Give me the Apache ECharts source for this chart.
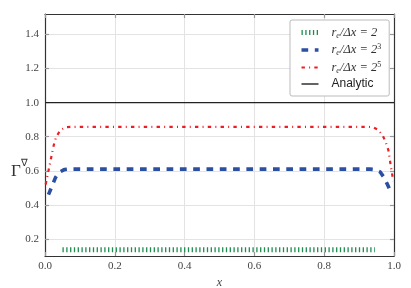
<!DOCTYPE html>
<html><head><meta charset="utf-8">
<script src="https://cdn.jsdelivr.net/npm/echarts@6/dist/echarts.min.js"></script>
<style>html,body{margin:0;padding:0;background:#fff}#c{width:411px;height:288px}</style>
</head><body><div id="c"></div>
<script>
// ---- data ----
const seriesNames = ['r2', 'r8', 'r32', 'Analytic'];
const greenX = [0.05, 0.945];
const greenY = [0.137, 0.137];
const blueX = [0.01, 0.02, 0.03, 0.04, 0.055, 0.07, 0.5, 0.93, 0.945, 0.96, 0.97, 0.98, 0.99];
const blueY = [0.46, 0.51, 0.56, 0.59, 0.607, 0.61, 0.61, 0.61, 0.607, 0.594, 0.565, 0.525, 0.48];
const redX = [0.002, 0.01, 0.018, 0.025, 0.032, 0.045, 0.06, 0.08, 0.5, 0.92, 0.94, 0.955, 0.968, 0.977, 0.984, 0.991, 0.998];
const redY = [0.52, 0.6, 0.68, 0.75, 0.8, 0.84, 0.856, 0.858, 0.858, 0.858, 0.856, 0.84, 0.805, 0.764, 0.72, 0.625, 0.54];
const analyticX = [0, 1];
const analyticY = [1, 1];
const yTicks = [0.2, 0.4, 0.6, 0.8, 1.0, 1.2, 1.4];
const xTicks = [0, 0.2, 0.4, 0.6, 0.8, 1.0];

const zip = (a, b) => a.map((v, i) => [v, b[i]]);
const serif = 'Liberation Serif';
const axisCommon = {
  axisLine: { show: true, onZero: false, lineStyle: { color: '#333', width: 1.2 } },
  axisTick: { show: true, inside: true, length: 4, lineStyle: { color: '#999', width: 1.2 } },
  splitLine: { show: true, lineStyle: { color: '#e3e3e3', width: 1 } },
  axisLabel: { fontFamily: serif, fontSize: 11, color: '#444' }
};
const legendLabels = {
  r2: '{m|r}{sub|e}{m|/Δx = 2}',
  r8: '{m|r}{sub|e}{m|/Δx = 2}{sup|3}',
  r32: '{m|r}{sub|e}{m|/Δx = 2}{sup|5}',
  Analytic: '{a|Analytic}'
};
const legendWidths = { r2: 5, r8: 3.6, r32: 2.2, Analytic: 1.4 };
const chart = echarts.init(document.getElementById('c'), null, { renderer: 'canvas' });
chart.setOption({
  animation: false,
  backgroundColor: '#fff',
  title: {
    text: '{g|Γ}{s|∇}', left: 11, top: 158, padding: 0,
    textStyle: {
      fontWeight: 'normal',
      rich: {
        g: { fontFamily: serif, fontWeight: 'normal', fontSize: 17, color: '#333', lineHeight: 22, verticalAlign: 'bottom' },
        s: { fontFamily: serif, fontWeight: 'normal', fontSize: 10, color: '#333', lineHeight: 22, verticalAlign: 'top' }
      }
    }
  },
  grid: { left: 45, right: 17, top: 14, bottom: 32, containLabel: false, outerBoundsMode: 'none' },
  xAxis: [
    Object.assign({}, axisCommon, {
      type: 'value', min: 0, max: 1, interval: 0.2,
      axisTick: Object.assign({}, axisCommon.axisTick, { customValues: xTicks }),
      axisLabel: Object.assign({}, axisCommon.axisLabel, { customValues: xTicks, margin: 5, formatter: v => v.toFixed(1) }),
      name: 'x', nameLocation: 'middle', nameGap: 14,
      nameTextStyle: { fontFamily: serif, fontStyle: 'italic', fontSize: 12, color: '#444' }
    }),
    Object.assign({}, axisCommon, {
      type: 'value', min: 0, max: 1, interval: 0.2, position: 'top',
      axisTick: Object.assign({}, axisCommon.axisTick, { customValues: xTicks }),
      axisLabel: { show: false }, splitLine: { show: false }
    })
  ],
  yAxis: [
    Object.assign({}, axisCommon, {
      type: 'value', min: 0.1, max: 1.52,
      axisTick: Object.assign({}, axisCommon.axisTick, { customValues: yTicks }),
      axisLabel: Object.assign({}, axisCommon.axisLabel, { customValues: yTicks, margin: 6, formatter: v => v.toFixed(1) })
    }),
    Object.assign({}, axisCommon, {
      type: 'value', min: 0.1, max: 1.52, position: 'right',
      axisTick: Object.assign({}, axisCommon.axisTick, { customValues: yTicks }),
      axisLabel: { show: false }, splitLine: { show: false }
    })
  ],
  legend: {
    orient: 'vertical', left: 290, top: 20,
    padding: [6, 8, 6, 9],
    backgroundColor: '#fff', borderColor: '#bbb', borderWidth: 1, borderRadius: 2,
    itemWidth: 17, itemHeight: 14, itemGap: 3.5,
    itemStyle: { opacity: 0, color: 'transparent', borderWidth: 0 },
    data: seriesNames.map(n => ({ name: n, lineStyle: { width: legendWidths[n] } })),
    formatter: n => legendLabels[n],
    textStyle: {
      color: '#222', padding: [0, 0, 0, 8],
      rich: {
        m: { fontFamily: serif, fontStyle: 'italic', fontSize: 12.5, color: '#333', lineHeight: 14, verticalAlign: 'middle' },
        sub: { fontFamily: serif, fontStyle: 'italic', fontSize: 8, color: '#333', lineHeight: 14, verticalAlign: 'bottom' },
        sup: { fontFamily: serif, fontSize: 8, color: '#333', lineHeight: 14, verticalAlign: 'top' },
        a: { fontFamily: 'Liberation Sans', fontSize: 12, color: '#222', lineHeight: 14 }
      }
    }
  },
  series: [
    { name: 'r2', type: 'line', symbol: 'none', data: zip(greenX, greenY),
      lineStyle: { color: '#1e8c4e', width: 5, type: [1.3, 2.5], cap: 'butt' }, itemStyle: { color: '#1e8c4e' } },
    { name: 'r8', type: 'line', symbol: 'none', data: zip(blueX, blueY),
      lineStyle: { color: '#2a4fa3', width: 3.6, type: [6.7, 6.6], cap: 'butt' }, itemStyle: { color: '#2a4fa3' } },
    { name: 'r32', type: 'line', symbol: 'none', data: zip(redX, redY),
      lineStyle: { color: '#ee1d25', width: 2.2, type: [3.4, 4.2, 1, 4.2], cap: 'butt' }, itemStyle: { color: '#ee1d25' } },
    { name: 'Analytic', type: 'line', symbol: 'none', data: zip(analyticX, analyticY), z: 1,
      lineStyle: { color: '#222', width: 1.4 }, itemStyle: { color: '#222' } }
  ]
});
</script></body></html>
